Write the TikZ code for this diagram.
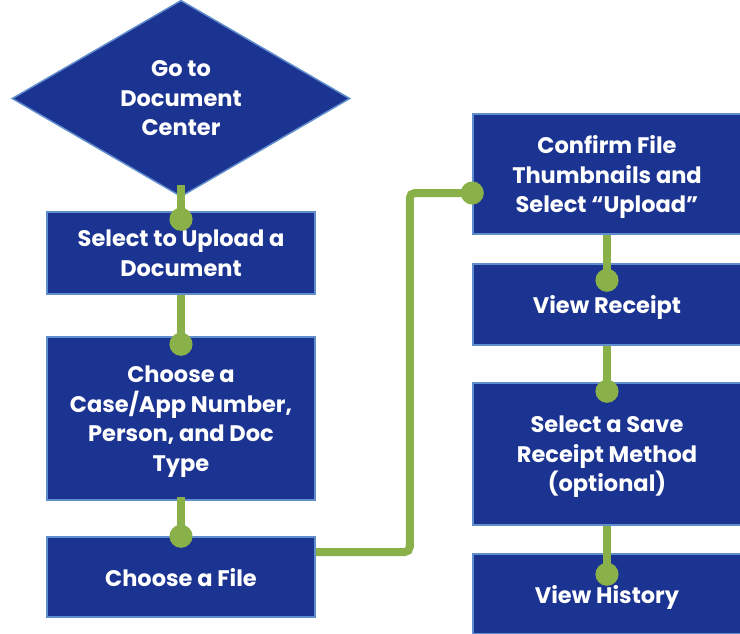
\documentclass[tikz,border=0pt]{standalone}
\usepackage{fontspec}
\setmainfont{Poppins}
\usetikzlibrary{shapes.geometric,arrows.meta,calc}

\definecolor{stepblue}{RGB}{28,52,145}
\definecolor{edgeblue}{RGB}{96,142,205}
\definecolor{linkgreen}{RGB}{138,176,74}

\begin{document}
\begin{tikzpicture}[x=1pt,y=-1pt,
	every node/.style={text depth=-5pt},
	stepbox/.style={rectangle,draw=edgeblue,line width=1.5pt,fill=stepblue,text=white,
		font=\bfseries\fontsize{22.5}{29.5}\selectfont,align=center,minimum width=268pt,inner sep=0pt},
	decision/.style={diamond,draw=edgeblue,line width=1.5pt,fill=stepblue,text=white,
		font=\bfseries\fontsize{22.5}{29.5}\selectfont,align=center,text depth=-10pt,
		minimum width=338pt,minimum height=187pt,inner sep=0pt},
	link/.style={draw=linkgreen,line width=8pt,-{Circle[length=23pt,width=23pt]}},
	reach/.style={shorten >=-#1}]
			\useasboundingbox (0,0) rectangle (740,633);
			% left column
			\node[decision] (center) at (181,98.5) {Go to\\Document\\Center};
			\node[stepbox,minimum height=82pt] (select) at (181,253) {Select to Upload a\\Document};
			\node[stepbox,minimum height=163pt] (choose) at (181,418.5) {Choose a\\Case/App Number,\\Person, and Doc\\Type};
			\node[stepbox,minimum height=80pt] (file) at (181,577) {Choose a File};
			% right column
			\node[stepbox,minimum height=120pt] (confirm) at (607,174) {Confirm File\\Thumbnails and\\Select “Upload”};
			\node[stepbox,minimum height=81pt] (receipt) at (607,304.5) {View Receipt};
			\node[stepbox,minimum height=142pt] (save) at (607,454) {Select a Save\\Receipt Method\\(optional)};
			\node[stepbox,minimum height=80pt] (history) at (607,594) {View History};
			% links
			\draw[link,shorten <=-12pt,reach=19.5pt] (center.south) -- (select.north);
			\draw[link,reach=19.5pt] (select.south) -- (choose.north);
			\draw[link,shorten <=-4pt,reach=11.5pt] (choose.south) -- (file.north);
			\draw[link,rounded corners=5pt,reach=11.5pt] ($(file.east)+(0,-25)$) -- ++(94,0) |- ($(confirm.west)+(0,19)$);
			\draw[link,reach=28.5pt] (confirm.south) -- (receipt.north);
			\draw[link,reach=20.5pt] (receipt.south) -- (save.north);
			\draw[link,reach=32.5pt] (save.south) -- (history.north);
\end{tikzpicture}
\end{document}
